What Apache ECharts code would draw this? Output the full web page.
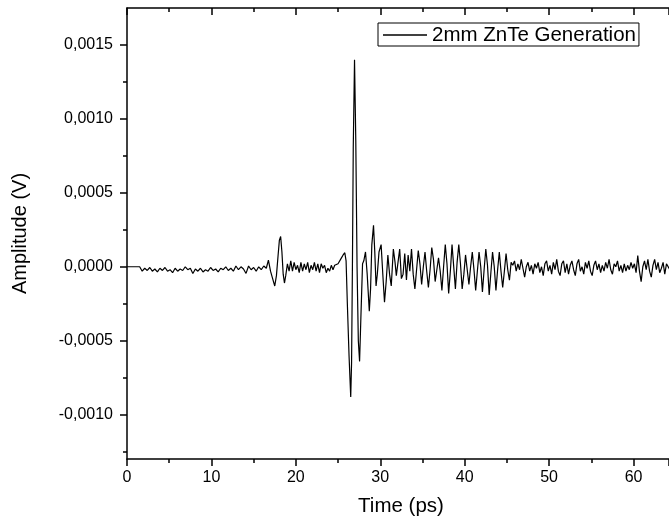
<!DOCTYPE html>
<html>
<head>
<meta charset="utf-8">
<script src="https://cdn.jsdelivr.net/npm/echarts@6/dist/echarts.min.js"></script>
<style>
  html, body { margin: 0; padding: 0; background: #fff; }
  #chart { width: 669px; height: 524px; }
</style>
</head>
<body>
<div id="chart"></div>
<script>
// trace: [time (ps), amplitude (1e-4 V)]
const trace = [
  [0, 0], [1.5, 0], [1.6, -0.1], [1.8, -0.3], [2.1, -0.1], [2.4, -0.25], [2.7, -0.05], [3.0, -0.3],
  [3.3, -0.15], [3.6, -0.35], [3.9, -0.1], [4.2, -0.25], [4.5, -0.05], [4.8, -0.3], [5.1, -0.2],
  [5.4, -0.4], [5.7, -0.1], [6.0, -0.3], [6.3, -0.15], [6.6, -0.25], [6.9, 0.0], [7.2, -0.2],
  [7.5, -0.1], [7.8, -0.45], [8.1, -0.15], [8.4, -0.3], [8.7, -0.1], [9.0, -0.35], [9.3, -0.2],
  [9.6, -0.3], [9.9, -0.05], [10.2, -0.25], [10.5, -0.15], [10.8, -0.35], [11.1, -0.1], [11.4, -0.2],
  [11.7, 0.0], [12.0, -0.25], [12.3, -0.1], [12.6, -0.3], [12.9, 0.05], [13.2, -0.2], [13.5, 0.0],
  [13.8, -0.15], [14.1, -0.45], [14.4, 0.05], [14.7, -0.2], [15.0, -0.05], [15.3, -0.3], [15.6, 0.0],
  [15.9, -0.2], [16.2, 0.05], [16.5, -0.1], [16.75, 0.45], [17.0, -0.3], [17.25, -0.8], [17.5, -1.3],
  [17.7, -0.6], [17.9, 0.8], [18.05, 1.8], [18.2, 2.05], [18.35, 1.0], [18.5, -0.5], [18.65, -1.1],
  [18.8, -0.6], [19.0, 0.2], [19.2, -0.3], [19.4, 0.4], [19.6, -0.3], [19.8, 0.3], [20.0, -0.2],
  [20.2, 0.1], [20.4, -0.4], [20.6, 0.3], [20.8, -0.3], [21.0, 0.2], [21.2, -0.2], [21.4, 0.3],
  [21.6, -0.4], [21.8, 0.1], [22.0, -0.2], [22.2, 0.3], [22.4, -0.3], [22.6, 0.2], [22.8, -0.4],
  [23.0, 0.2], [23.2, -0.1], [23.4, 0.1], [23.6, -0.4], [23.8, -0.1], [24.0, -0.3], [24.2, 0.1],
  [24.4, -0.2], [24.6, 0.1], [24.8, 0.0], [25.0, 0.2], [25.2, 0.3], [25.4, 0.6], [25.6, 0.8],
  [25.8, 0.95], [25.95, 0.4],
  // main pulse
  [26.1, -2.5], [26.3, -6.0], [26.5, -8.8], [26.6, -6.5], [26.7, 0.0], [26.8, 8.0], [26.95, 14.0],
  [27.1, 8.5], [27.25, 0.0], [27.4, -5.0], [27.55, -6.4], [27.7, -3.5], [27.9, 0.2], [28.05, 0.4],
  [28.25, 1.0], [28.45, -0.5], [28.7, -3.0], [28.85, -1.5], [29.0, 1.5], [29.2, 2.8], [29.35, 1.0],
  [29.5, -1.3], [29.65, -0.5], [29.85, 1.0], [30.1, 1.5], [30.3, -0.5], [30.5, -2.4], [30.7, -1.0],
  [30.9, 0.8], [31.1, -0.5], [31.3, -1.3], [31.55, 1.2], [31.75, 0.3], [31.9, -0.6], [32.1, 0.3],
  [32.3, 1.2], [32.5, -0.8], [32.7, -0.5], [32.9, 0.9], [33.1, -0.9], [33.3, 0.8], [33.5, -0.3],
  [33.7, 1.2], [33.9, -0.5], [34.1, -1.5], [34.3, -0.2], [34.5, 1.1], [34.7, 0.2], [34.9, -1.2],
  [35.1, 0.0], [35.3, 1.0], [35.5, -0.3], [35.7, -1.4], [35.9, -0.2], [36.1, 1.3], [36.3, 0.5],
  [36.5, -1.0], [36.7, -0.2], [36.9, 0.6], [37.1, -0.3], [37.3, -1.6], [37.5, 0.0], [37.7, 1.5],
  [37.9, 0.2], [38.1, -1.8], [38.3, -0.3], [38.5, 1.5], [38.7, 0.0], [38.9, -1.5], [39.1, 0.3],
  [39.3, 1.5], [39.5, 0.2], [39.7, -1.5], [39.9, -0.5], [40.1, 0.8], [40.3, -0.2], [40.5, -1.2],
  [40.7, 0.0], [40.9, 1.0], [41.1, -0.2], [41.3, -1.6], [41.5, -0.3], [41.7, 1.0], [41.9, 0.0],
  [42.1, -1.7], [42.3, -0.2], [42.5, 1.2], [42.7, 0.1], [42.9, -1.9], [43.1, -0.4], [43.3, 1.0],
  [43.5, 0.0], [43.7, -1.6], [43.9, -0.2], [44.1, 1.0], [44.3, -0.3], [44.5, -1.4], [44.7, -0.3],
  [44.9, 0.9], [45.1, -0.2], [45.3, -0.9], [45.5, 0.3], [45.7, 0.1], [45.9, 0.4], [46.1, -0.3],
  [46.3, 0.2], [46.5, -0.2], [46.7, 0.5], [46.9, -0.1], [47.1, -0.7], [47.3, 0.0], [47.5, 0.3],
  [47.7, -0.3], [47.9, 0.1], [48.1, -0.5], [48.3, 0.2], [48.5, -0.1], [48.7, 0.3], [48.9, -0.4],
  [49.1, 0.0], [49.3, -0.6], [49.5, 0.2], [49.7, 0.4], [49.9, -0.3], [50.1, 0.1], [50.3, -0.5],
  [50.5, 0.3], [50.7, -0.2], [50.9, 0.5], [51.1, -0.3], [51.3, -0.6], [51.5, 0.2], [51.7, 0.4],
  [51.9, -0.4], [52.1, 0.2], [52.3, -0.5], [52.5, 0.1], [52.7, 0.4], [52.9, -0.2], [53.1, -0.6],
  [53.3, 0.2], [53.5, 0.5], [53.7, -0.3], [53.9, 0.0], [54.1, -0.5], [54.3, 0.3], [54.5, -0.1],
  [54.7, 0.4], [54.9, -0.3], [55.1, -0.6], [55.3, 0.1], [55.5, 0.4], [55.7, -0.2], [55.9, 0.2],
  [56.1, -0.4], [56.3, 0.1], [56.5, -0.3], [56.7, 0.3], [56.9, -0.1], [57.1, 0.5], [57.3, -0.2],
  [57.5, -0.5], [57.7, 0.2], [57.9, 0.0], [58.1, 0.4], [58.3, -0.3], [58.5, 0.1], [58.7, -0.4],
  [58.9, 0.2], [59.1, -0.3], [59.3, 0.1], [59.5, -0.2], [59.7, 0.3], [59.9, -0.1], [60.1, 0.2],
  [60.3, -0.4], [60.5, 0.75], [60.7, -0.3], [60.9, -1.0], [61.1, 0.0], [61.3, 0.4], [61.5, -0.2],
  [61.7, 0.5], [61.9, -0.3], [62.1, -0.7], [62.3, 0.1], [62.5, 0.5], [62.7, -0.2], [62.9, 0.3],
  [63.1, -0.4], [63.3, -0.1], [63.5, 0.3], [63.7, -0.5], [63.9, 0.2], [64.1, 0.3], [64.3, -0.2]
];

const yMajorTicks = [-0.001, -0.0005, 0, 0.0005, 0.001, 0.0015];
const yMinorTicks = [-0.00125, -0.00075, -0.00025, 0.00025, 0.00075, 0.00125];
const seriesName = '2mm ZnTe Generation';

const font = 'Liberation Sans, Arial, sans-serif';
const black = '#000';

const chart = echarts.init(document.getElementById('chart'), null, { renderer: 'canvas' });

const xRange = { min: 0, max: 64.2 };
const yRange = { min: -0.0013, max: 0.00175 };

chart.setOption({
  animation: false,
  backgroundColor: '#fff',
  grid: { left: 127, right: 0, top: 8, bottom: 65 },
  legend: {
    data: [seriesName],
    left: 378,
    top: 23,
    padding: [1, 3, 0, 5],
    borderColor: black,
    borderWidth: 1,
    icon: 'rect',
    itemWidth: 44,
    itemHeight: 1.5,
    itemGap: 0,
    itemStyle: { color: black, opacity: 1 },
    textStyle: { fontFamily: font, fontSize: 20.5, lineHeight: 22, color: black, padding: [0, 0, 0, 0] }
  },
  xAxis: [
    {
      type: 'value',
      position: 'bottom',
      min: xRange.min,
      max: xRange.max,
      interval: 10,
      name: 'Time (ps)',
      nameLocation: 'middle',
      nameGap: 37,
      nameTextStyle: { fontFamily: font, fontSize: 20.5, color: black, padding: [0, 0, 0, 6] },
      axisLine: { show: true, onZero: false, lineStyle: { color: black, width: 1.5 } },
      axisTick: { show: true, inside: false, length: 7, lineStyle: { color: black, width: 1.5 } },
      minorTick: { show: true, splitNumber: 2, length: 4, lineStyle: { color: black, width: 1.5 } },
      axisLabel: { fontFamily: font, fontSize: 16, color: black, margin: 11, showMaxLabel: false },
      splitLine: { show: false }
    },
    {
      type: 'value',
      position: 'top',
      min: xRange.min,
      max: xRange.max,
      interval: 10,
      axisLine: { show: true, onZero: false, lineStyle: { color: black, width: 1.5 } },
      axisTick: { show: true, inside: true, length: 7, lineStyle: { color: black, width: 1.5 } },
      minorTick: { show: true, splitNumber: 2, length: 4, lineStyle: { color: black, width: 1.5 } },
      axisLabel: { show: false },
      splitLine: { show: false }
    }
  ],
  yAxis: [
    {
      type: 'value',
      position: 'left',
      min: yRange.min,
      max: yRange.max,
      name: 'Amplitude (V)',
      nameLocation: 'middle',
      nameGap: 97,
      nameTextStyle: { fontFamily: font, fontSize: 20, color: black },
      axisLine: { show: true, onZero: false, lineStyle: { color: black, width: 1.5 } },
      axisTick: { show: true, inside: false, length: 7, customValues: yMajorTicks, lineStyle: { color: black, width: 1.5 } },
      axisLabel: {
        fontFamily: font, fontSize: 16, color: black, margin: 14,
        customValues: yMajorTicks,
        formatter: v => v.toFixed(4).replace('.', ',')
      },
      splitLine: { show: false }
    },
    {
      // minor ticks on the left axis
      type: 'value',
      position: 'left',
      min: yRange.min,
      max: yRange.max,
      axisLine: { show: false },
      axisTick: { show: true, inside: false, length: 4, customValues: yMinorTicks, lineStyle: { color: black, width: 1.5 } },
      axisLabel: { show: false, customValues: yMinorTicks },
      splitLine: { show: false }
    }
  ],
  series: [
    {
      name: seriesName,
      type: 'line',
      xAxisIndex: 0,
      yAxisIndex: 0,
      showSymbol: false,
      symbol: 'none',
      smooth: false,
      lineStyle: { color: black, width: 1.2 },
      itemStyle: { color: black },
      data: trace.map(p => [p[0], p[1] * 1e-4])
    }
  ]
});
</script>
</body>
</html>
